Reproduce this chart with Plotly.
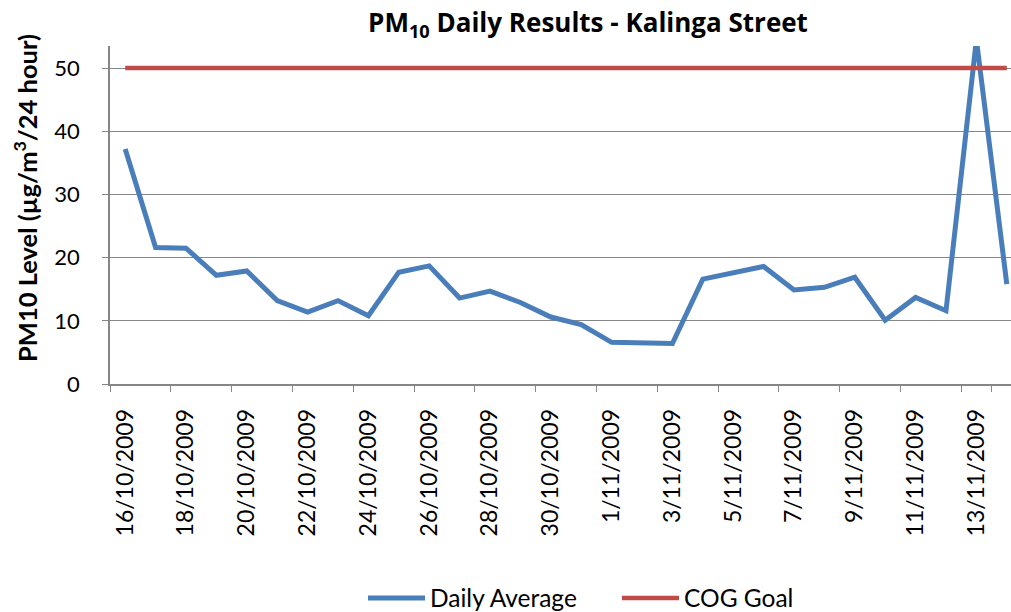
import plotly.graph_objects as go

dates = ["16/10/2009", "17/10/2009", "18/10/2009", "19/10/2009", "20/10/2009",
         "21/10/2009", "22/10/2009", "23/10/2009", "24/10/2009", "25/10/2009",
         "26/10/2009", "27/10/2009", "28/10/2009", "29/10/2009", "30/10/2009",
         "31/10/2009", "1/11/2009", "2/11/2009", "3/11/2009", "4/11/2009",
         "5/11/2009", "6/11/2009", "7/11/2009", "8/11/2009", "9/11/2009",
         "10/11/2009", "11/11/2009", "12/11/2009", "13/11/2009", "14/11/2009"]
daily_average = [37.2, 21.6, 21.5, 17.2, 17.9, 13.2, 11.4, 13.2, 10.8, 17.7,
                 18.7, 13.6, 14.7, 12.9, 10.6, 9.4, 6.6, 6.5, 6.4, 16.6,
                 17.5, 18.6, 14.9, 15.3, 16.9, 10.1, 13.7, 11.6, 54.5, 15.8]
cog_goal = [50] * len(dates)
tick_labels = dates[::2]

FONT = "Lato"
BLUE = "#4A7EBB"
RED = "#BE4B48"
GREY = "#868686"

fig = go.Figure()
fig.add_trace(go.Scatter(x=dates, y=daily_average, mode="lines", name="Daily Average",
                         line=dict(color=BLUE, width=5)))
fig.add_trace(go.Scatter(x=dates, y=cog_goal, mode="lines", name="COG Goal",
                         line=dict(color=RED, width=4.5)))

W, H = 1011, 612
L, R, T, B = 110, 0, 46, 228
plot_w = W - L - R
plot_h = H - T - B

fig.update_layout(
    width=W, height=H,
    margin=dict(l=L, r=R, t=T, b=B, autoexpand=False),
    paper_bgcolor="white", plot_bgcolor="white",
    font=dict(family=FONT, color="black", size=22),
    title=dict(text="<b>PM<sub>10</sub> Daily Results - Kalinga Street</b>",
               x=588 / W, xref="container", xanchor="center",
               y=1 - 23 / H, yref="container", yanchor="middle",
               font=dict(family="Open Sans", size=26, color="black")),
    showlegend=True,
    legend=dict(orientation="h", x=(363 - L) / plot_w, xanchor="left",
                y=(T + plot_h - 598) / plot_h, yanchor="middle",
                font=dict(family=FONT, size=24.5), itemwidth=57,
                entrywidth=182, entrywidthmode="pixels",
                bgcolor="rgba(0,0,0,0)"),
    annotations=[dict(text="<b>PM10 Level (µg/m<sup>3</sup>/24 hour)</b>",
                      textangle=-90, x=(25 - L) / plot_w, xref="paper",
                      y=(T + plot_h - 198) / plot_h, yref="paper",
                      xanchor="center", yanchor="middle", showarrow=False,
                      font=dict(family=FONT, size=25.5, color="black"))],
)

fig.update_xaxes(
    type="category", categoryorder="array", categoryarray=dates,
    range=[-0.5, -0.5 + plot_w / 30.4], automargin=False,
    tickmode="array", tickvals=tick_labels, ticktext=tick_labels,
    tickson="boundaries", tickangle=-90, ticklabelstandoff=14,
    ticks="outside", ticklen=6, tickcolor=GREY, tickwidth=1,
    showline=True, linecolor=GREY, linewidth=1.5,
    showgrid=False, zeroline=False,
    tickfont=dict(family=FONT, size=23, color="black"),
)
fig.update_yaxes(
    range=[0, 53.5], tickmode="array", tickvals=[0, 10, 20, 30, 40, 50],
    automargin=False, ticklabelstandoff=18,
    ticks="outside", ticklen=6, tickcolor=GREY, tickwidth=1,
    showline=True, linecolor=GREY, linewidth=1.5,
    showgrid=True, gridcolor=GREY, gridwidth=1,
    zeroline=False,
    tickfont=dict(family=FONT, size=22, color="black"),
)

fig.write_html("out.html", config={"displayModeBar": False},
               post_script="document.body.style.margin='0';document.body.style.padding='0';")
